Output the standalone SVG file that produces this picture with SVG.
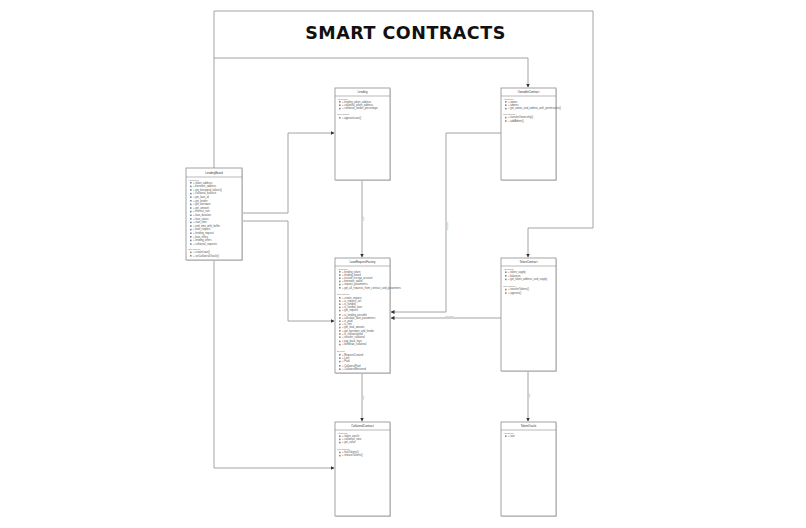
<svg xmlns="http://www.w3.org/2000/svg" width="806" height="528" viewBox="0 0 806 528">
<defs>
<style>
.box{fill:#fff;stroke:#8c8c8c;stroke-width:0.8}
.sh{fill:#d9d9d9}
.hd{stroke:#8c8c8c;stroke-width:0.6}
.t{font-family:"Liberation Sans",Arial,sans-serif;font-size:2.6px;fill:#555}
.tt{font-family:"Liberation Sans",Arial,sans-serif;font-size:2.8px;fill:#333;text-anchor:middle}
.s{font-family:"Liberation Sans",Arial,sans-serif;font-size:2.5px;fill:#777}
.c{fill:none;stroke:#9a9a9a;stroke-width:0.9}
.lb{font-family:"Liberation Sans",Arial,sans-serif;font-size:2.4px;fill:#999}
.ic{fill:#7a8a9a}
.ic2{fill:#9a8a7a}
</style>
<marker id="a" markerWidth="4" markerHeight="4" refX="3.5" refY="2" orient="auto" markerUnits="userSpaceOnUse">
<path d="M0,0 L4,2 L0,4 z" fill="#333"/>
</marker>
</defs>
<rect width="806" height="528" fill="#fff"/>
<text x="405.5" y="39" text-anchor="middle" font-family="DejaVu Sans, sans-serif" font-weight="bold" font-size="17.5" letter-spacing="0.5" fill="#111">SMART CONTRACTS</text>

<g id="connectors">
<polyline class="c" points="214,168 214,11 593,11 593,228 528,228 528,257" marker-end="url(#a)"/>
<polyline class="c" points="214,58 528,58 528,87" marker-end="url(#a)"/>
<polyline class="c" points="214,260 214,468 334,468" marker-end="url(#a)"/>
<polyline class="c" points="242,213 288,213 288,133 334,133" marker-end="url(#a)"/>
<polyline class="c" points="242,221 288,221 288,321 334,321" marker-end="url(#a)"/>
<polyline class="c" points="362,180 362,257" marker-end="url(#a)"/>
<polyline class="c" points="501,133 446,133 446,312 391,312" marker-end="url(#a)"/>
<polyline class="c" points="501,318 391,318" marker-end="url(#a)"/>
<polyline class="c" points="362,373 362,421" marker-end="url(#a)"/>
<polyline class="c" points="528,371 528,421" marker-end="url(#a)"/>
<text class="lb" x="363" y="216" transform="rotate(90 363 216)">uses</text>
<text class="lb" x="447" y="222" transform="rotate(90 447 222)">extends</text>
<text class="lb" x="445" y="317">extends</text>
<text class="lb" x="363" y="395" transform="rotate(90 363 395)">uses</text>
<text class="lb" x="529" y="393" transform="rotate(90 529 393)">uses</text>
</g>

<g id="lendingBoard">
<rect class="sh" x="187" y="169" width="56" height="92"/>
<rect class="box" x="186" y="168" width="56" height="92"/>
<line class="hd" x1="186" y1="177" x2="242" y2="177"/>
<text class="tt" x="214" y="174">LendingBoard</text>
<text class="s" x="188" y="180.5">Attributes</text>
<g class="t">
<rect class="ic" x="190" y="182" width="1.6" height="1.6"/><text x="193" y="183.6">+ token_address</text>
<rect class="ic" x="190" y="185.6" width="1.6" height="1.6"/><text x="193" y="187.2">+ borrower_address</text>
<rect class="ic" x="190" y="189.2" width="1.6" height="1.6"/><text x="193" y="190.8">+ get_borrowed_tokens()</text>
<rect class="ic" x="190" y="192.8" width="1.6" height="1.6"/><text x="193" y="194.4">+ collateral_balance</text>
<rect class="ic" x="190" y="196.4" width="1.6" height="1.6"/><text x="193" y="198">+ get_loan_id</text>
<rect class="ic" x="190" y="200" width="1.6" height="1.6"/><text x="193" y="201.6">+ get_lender</text>
<rect class="ic" x="190" y="203.6" width="1.6" height="1.6"/><text x="193" y="205.2">+ get_borrower</text>
<rect class="ic" x="190" y="207.2" width="1.6" height="1.6"/><text x="193" y="208.8">+ get_amount</text>
<rect class="ic" x="190" y="210.8" width="1.6" height="1.6"/><text x="193" y="212.4">+ interest_rate</text>
<rect class="ic" x="190" y="214.4" width="1.6" height="1.6"/><text x="193" y="216">+ loan_duration</text>
<rect class="ic" x="190" y="218" width="1.6" height="1.6"/><text x="193" y="219.6">+ loan_status</text>
<rect class="ic" x="190" y="221.6" width="1.6" height="1.6"/><text x="193" y="223.2">+ start_time</text>
<rect class="ic" x="190" y="225.2" width="1.6" height="1.6"/><text x="193" y="226.8">+ end_time_with_buffer</text>
<rect class="ic" x="190" y="228.8" width="1.6" height="1.6"/><text x="193" y="230.4">+ loan_request</text>
<rect class="ic" x="190" y="232.4" width="1.6" height="1.6"/><text x="193" y="234">+ lending_request</text>
<rect class="ic" x="190" y="236" width="1.6" height="1.6"/><text x="193" y="237.6">+ loan_offers</text>
<rect class="ic" x="190" y="239.6" width="1.6" height="1.6"/><text x="193" y="241.2">+ lending_offers</text>
<rect class="ic" x="190" y="243.2" width="1.6" height="1.6"/><text x="193" y="244.8">+ collateral_requests</text>
</g>
<text class="s" x="188" y="250">Operations</text>
<g class="t">
<rect class="ic2" x="190" y="251.6" width="1.6" height="1.6"/><text x="193" y="253.2">+ createLoan()</text>
<rect class="ic2" x="190" y="255" width="1.6" height="1.6"/><text x="193" y="256.6">+ setCollateralOracle()</text>
</g>
</g>

<g id="lending">
<rect class="sh" x="336" y="89" width="55" height="92"/>
<rect class="box" x="335" y="88" width="55" height="92"/>
<line class="hd" x1="335" y1="96" x2="390" y2="96"/>
<text class="tt" x="362.5" y="93">Lending</text>
<text class="s" x="337" y="99.5">Attributes</text>
<g class="t">
<rect class="ic" x="339" y="101" width="1.6" height="1.6"/><text x="342" y="102.6">+ lending_token_address</text>
<rect class="ic" x="339" y="104.4" width="1.6" height="1.6"/><text x="342" y="106">+ collateral_token_address</text>
<rect class="ic" x="339" y="107.8" width="1.6" height="1.6"/><text x="342" y="109.4">+ collateral_lender_percentage</text>
</g>
<text class="s" x="337" y="115">Operations</text>
<g class="t"><rect class="ic2" x="339" y="117" width="1.6" height="1.6"/><text x="342" y="118.6">+ approveLoan()</text></g>
</g>

<g id="ownableContract">
<rect class="sh" x="502" y="89" width="55" height="92"/>
<rect class="box" x="501" y="88" width="55" height="92"/>
<line class="hd" x1="501" y1="96" x2="556" y2="96"/>
<text class="tt" x="528.5" y="93">OwnableContract</text>
<text class="s" x="503" y="99.5">Attributes</text>
<g class="t">
<rect class="ic" x="505" y="101" width="1.6" height="1.6"/><text x="508" y="102.6">+ owner</text>
<rect class="ic" x="505" y="104.4" width="1.6" height="1.6"/><text x="508" y="106">+ admins</text>
<rect class="ic" x="505" y="107.8" width="1.6" height="1.6"/><text x="508" y="109.4">+ get_owner_and_admins_with_permissions()</text>
</g>
<text class="s" x="503" y="115">Operations</text>
<g class="t">
<rect class="ic2" x="505" y="116.8" width="1.6" height="1.6"/><text x="508" y="118.4">+ transferOwnership()</text>
<rect class="ic2" x="505" y="120.2" width="1.6" height="1.6"/><text x="508" y="121.8">+ addAdmin()</text>
</g>
</g>

<g id="lendingRequestFactory">
<rect class="sh" x="336" y="259" width="55" height="115"/>
<rect class="box" x="335" y="258" width="55" height="115"/>
<line class="hd" x1="335" y1="266" x2="390" y2="266"/>
<text class="tt" x="362.5" y="263">LoanRequestFactory</text>
<text class="s" x="337" y="269.5">Attributes</text>
<g class="t">
<rect class="ic" x="339" y="271" width="1.6" height="1.6"/><text x="342" y="272.6">+ lending_token</text>
<rect class="ic" x="339" y="274.2" width="1.6" height="1.6"/><text x="342" y="275.8">+ lending_board</text>
<rect class="ic" x="339" y="277.4" width="1.6" height="1.6"/><text x="342" y="279">+ trusted_escrow_account</text>
<rect class="ic" x="339" y="280.6" width="1.6" height="1.6"/><text x="342" y="282.2">+ borrower_wallet</text>
<rect class="ic" x="339" y="283.8" width="1.6" height="1.6"/><text x="342" y="285.4">+ request_parameters</text>
<rect class="ic" x="339" y="287" width="1.6" height="1.6"/><text x="342" y="288.6">+ get_all_requests_from_contract_and_parameters</text>
</g>
<text class="s" x="337" y="295">Operations</text>
<g class="t">
<rect class="ic2" x="339" y="297" width="1.6" height="1.6"/><text x="342" y="298.6">+ create_request</text>
<rect class="ic2" x="339" y="300.2" width="1.6" height="1.6"/><text x="342" y="301.8">+ is_request_set</text>
<rect class="ic2" x="339" y="303.4" width="1.6" height="1.6"/><text x="342" y="305">+ is_funded</text>
<rect class="ic2" x="339" y="306.6" width="1.6" height="1.6"/><text x="342" y="308.2">+ is_funded_loan</text>
<rect class="ic2" x="339" y="309.8" width="1.6" height="1.6"/><text x="342" y="311.4">+ get_request</text>
<rect class="ic2" x="339" y="314" width="1.6" height="1.6"/><text x="342" y="315.6">+ is_lending_possible</text>
<rect class="ic2" x="339" y="317.2" width="1.6" height="1.6"/><text x="342" y="318.8">+ calculate_loan_parameters</text>
<rect class="ic2" x="339" y="320.4" width="1.6" height="1.6"/><text x="342" y="322">+ is_paid</text>
<rect class="ic2" x="339" y="323.6" width="1.6" height="1.6"/><text x="342" y="325.2">+ is_lent</text>
<rect class="ic2" x="339" y="326.8" width="1.6" height="1.6"/><text x="342" y="328.4">+ get_total_amount</text>
<rect class="ic2" x="339" y="330" width="1.6" height="1.6"/><text x="342" y="331.6">+ get_borrower_and_lender</text>
<rect class="ic2" x="339" y="333.2" width="1.6" height="1.6"/><text x="342" y="334.8">+ is_collateralized</text>
<rect class="ic2" x="339" y="336.4" width="1.6" height="1.6"/><text x="342" y="338">+ transfer_collateral</text>
<rect class="ic2" x="339" y="340.6" width="1.6" height="1.6"/><text x="342" y="342.2">+ pay_back_loan</text>
<rect class="ic2" x="339" y="343.8" width="1.6" height="1.6"/><text x="342" y="345.4">+ withdraw_collateral</text>
</g>
<text class="s" x="337" y="352">Events</text>
<g class="t">
<rect class="ic" x="339" y="354" width="1.6" height="1.6"/><text x="342" y="355.6">+ RequestCreated</text>
<rect class="ic" x="339" y="357.4" width="1.6" height="1.6"/><text x="342" y="359">+ Lent</text>
<rect class="ic" x="339" y="360.8" width="1.6" height="1.6"/><text x="342" y="362.4">+ Paid</text>
<rect class="ic" x="339" y="365" width="1.6" height="1.6"/><text x="342" y="366.6">+ CollateralPaid</text>
<rect class="ic" x="339" y="368.4" width="1.6" height="1.6"/><text x="342" y="370">+ CollateralReturned</text>
</g>
</g>

<g id="tokenContract">
<rect class="sh" x="502" y="259" width="55" height="113"/>
<rect class="box" x="501" y="258" width="55" height="113"/>
<line class="hd" x1="501" y1="266" x2="556" y2="266"/>
<text class="tt" x="528.5" y="263">TokenContract</text>
<text class="s" x="503" y="269.5">Attributes</text>
<g class="t">
<rect class="ic" x="505" y="271.4" width="1.6" height="1.6"/><text x="508" y="273">+ token_supply</text>
<rect class="ic" x="505" y="275" width="1.6" height="1.6"/><text x="508" y="276.6">+ balances</text>
<rect class="ic" x="505" y="278.6" width="1.6" height="1.6"/><text x="508" y="280.2">+ get_token_address_and_supply</text>
</g>
<text class="s" x="503" y="286.5">Operations</text>
<g class="t">
<rect class="ic2" x="505" y="288.8" width="1.6" height="1.6"/><text x="508" y="290.4">+ transferTokens()</text>
<rect class="ic2" x="505" y="292.2" width="1.6" height="1.6"/><text x="508" y="293.8">+ approve()</text>
</g>
</g>

<g id="collateralContract">
<rect class="sh" x="336" y="423" width="55" height="94"/>
<rect class="box" x="335" y="422" width="55" height="94"/>
<line class="hd" x1="335" y1="430" x2="390" y2="430"/>
<text class="tt" x="362.5" y="427">CollateralContract</text>
<text class="s" x="337" y="433.5">Attributes</text>
<g class="t">
<rect class="ic" x="339" y="435.4" width="1.6" height="1.6"/><text x="342" y="437">+ token_oracle</text>
<rect class="ic" x="339" y="438.6" width="1.6" height="1.6"/><text x="342" y="440.2">+ collateral_ratio</text>
<rect class="ic" x="339" y="441.8" width="1.6" height="1.6"/><text x="342" y="443.4">+ get_value</text>
</g>
<text class="s" x="337" y="449.5">Operations</text>
<g class="t">
<rect class="ic2" x="339" y="451.6" width="1.6" height="1.6"/><text x="342" y="453.2">+ lockTokens()</text>
<rect class="ic2" x="339" y="454.8" width="1.6" height="1.6"/><text x="342" y="456.4">+ releaseTokens()</text>
</g>
</g>

<g id="tokenOracle">
<rect class="sh" x="502" y="423" width="55" height="94"/>
<rect class="box" x="501" y="422" width="55" height="94"/>
<line class="hd" x1="501" y1="430" x2="556" y2="430"/>
<text class="tt" x="528.5" y="427">TokenOracle</text>
<text class="s" x="503" y="433.5">Attributes</text>
<g class="t"><rect class="ic" x="505" y="435.4" width="1.6" height="1.6"/><text x="508" y="437">+ rate</text></g>
</g>
</svg>
